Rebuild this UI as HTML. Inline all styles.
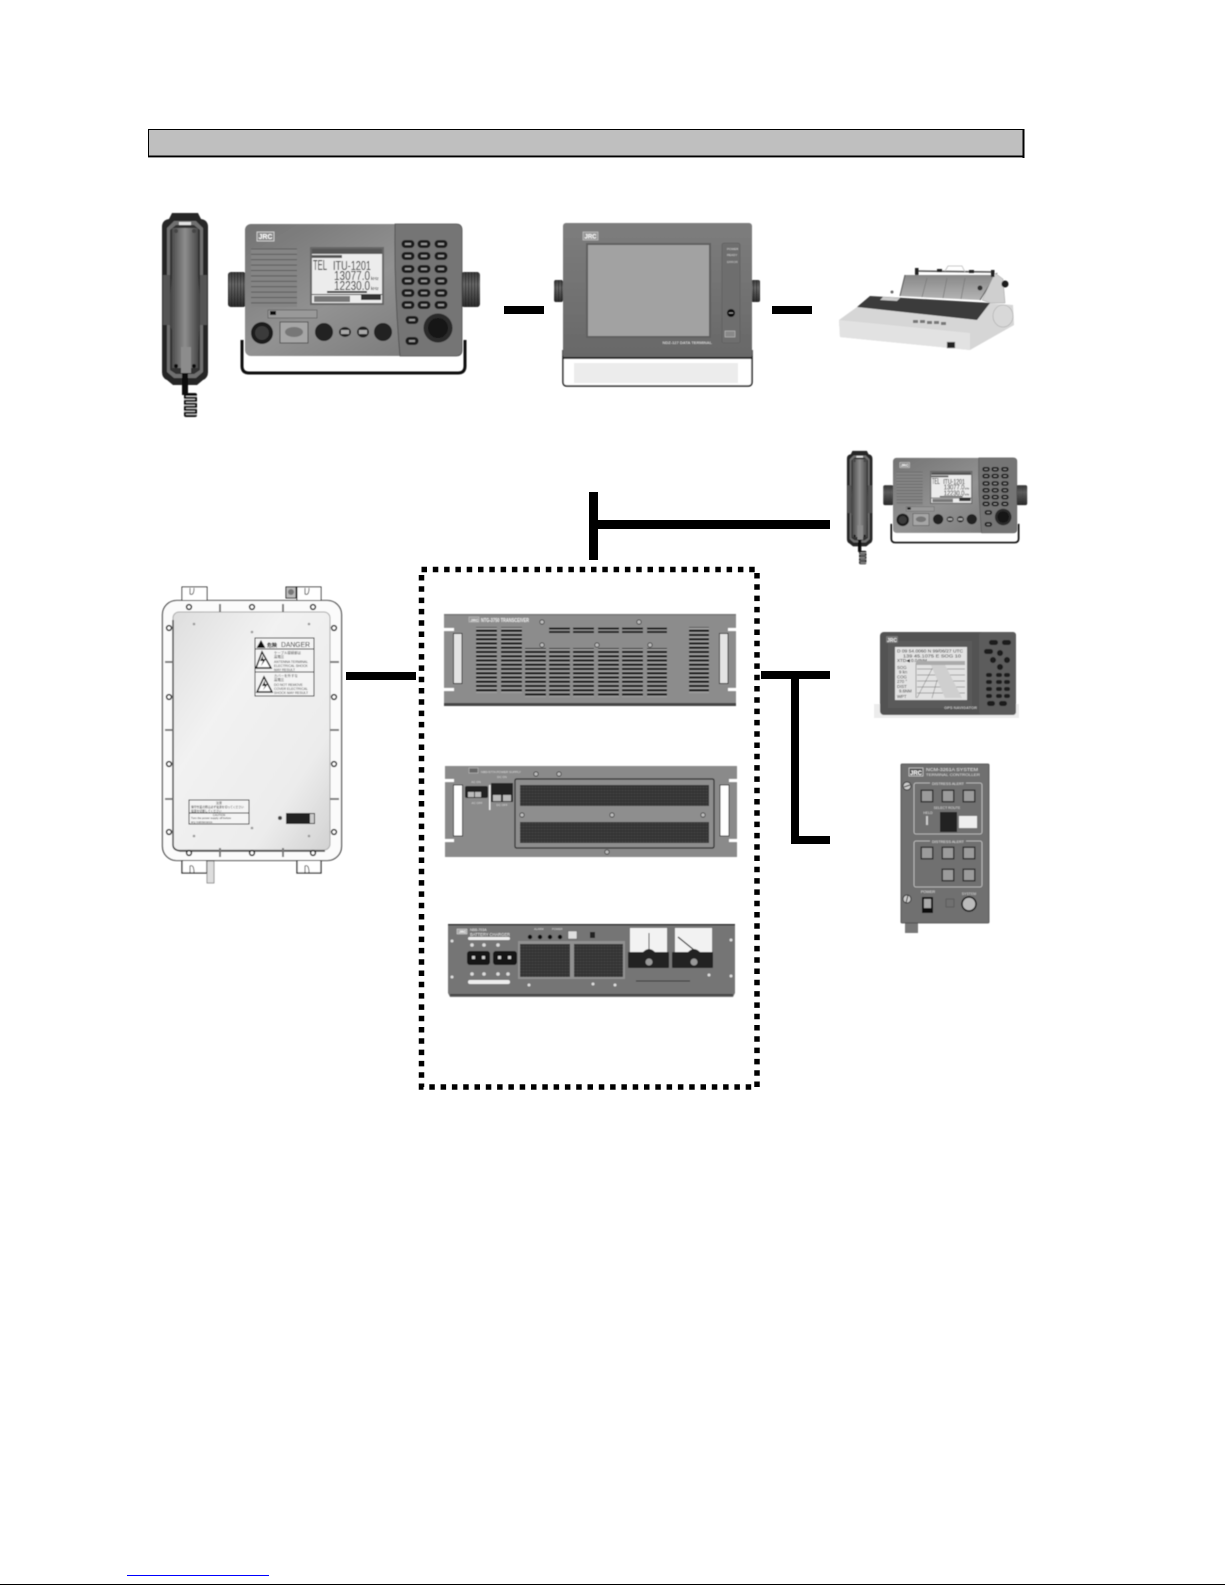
<!DOCTYPE html>
<html><head><meta charset="utf-8"><title>Diagram</title>
<style>html,body{margin:0;padding:0;background:#fff}svg{display:block}text{font-family:"Liberation Sans",sans-serif}</style></head>
<body>
<svg xmlns="http://www.w3.org/2000/svg" width="1225" height="1585" viewBox="0 0 1225 1585">
<defs>
<linearGradient id="rb" x1="0" y1="0" x2="1" y2="1"><stop offset="0" stop-color="#737373"/><stop offset=".5" stop-color="#929292"/><stop offset="1" stop-color="#747474"/></linearGradient>
<linearGradient id="hs" x1="0" y1="0" x2="1" y2="0"><stop offset="0" stop-color="#3c3c3c"/><stop offset=".5" stop-color="#8e8e8e"/><stop offset="1" stop-color="#3a3a3a"/></linearGradient>
<linearGradient id="plate" x1="0" y1="0" x2="1" y2="1"><stop offset="0" stop-color="#dedede"/><stop offset=".35" stop-color="#f2f2f2"/><stop offset=".75" stop-color="#ececec"/><stop offset="1" stop-color="#d2d2d2"/></linearGradient>
<linearGradient id="knob" x1="0" y1="0" x2="0" y2="1"><stop offset="0" stop-color="#3a3a3a"/><stop offset=".35" stop-color="#6c6c6c"/><stop offset="1" stop-color="#2c2c2c"/></linearGradient>
<linearGradient id="term" x1="0" y1="0" x2="0" y2="1"><stop offset="0" stop-color="#7d7d7d"/><stop offset="1" stop-color="#686868"/></linearGradient>
<linearGradient id="guide" x1="0" y1="0" x2="0" y2="1"><stop offset="0" stop-color="#888"/><stop offset="1" stop-color="#b4b4b4"/></linearGradient>
<pattern id="vent" width="10" height="4.25" patternUnits="userSpaceOnUse"><rect width="10" height="4.25" fill="#a2a2a2"/><rect width="10" height="2.3" y=".6" fill="#161616"/></pattern>
<pattern id="grill" width="10" height="5.4" patternUnits="userSpaceOnUse"><rect width="10" height="5.4" fill="#858585"/><rect width="10" height="1" fill="#5b5b5b"/></pattern>
<pattern id="foam" width="3" height="3" patternUnits="userSpaceOnUse"><rect width="3" height="3" fill="#363636"/><rect x="1" y="1" width="1" height="1" fill="#4a4a4a"/></pattern>
<pattern id="ridge" width="3" height="10" patternUnits="userSpaceOnUse"><rect width="1.200" height="10" fill="#1c1c1c" opacity=".55"/></pattern>
<g id="k"><rect x="-6.5" y="-4" width="13" height="8" rx="4" fill="#1e1e1e"/><rect x="-3" y="-1" width="6" height="2" fill="#999"/></g>
<g id="sc"><circle r="2.2" fill="#bbb" stroke="#333" stroke-width=".8"/></g>
<g id="bolt"><circle r="2.4" fill="#fff" stroke="#111" stroke-width="1.5"/></g>
<g id="cb"><rect x="-6.5" y="-6.5" width="13" height="13" fill="#333"/><rect x="-5" y="-5" width="10" height="10" fill="#9b9b9b"/></g>

<g id="radio">
  <path d="M242 340 V366 Q242 373 249 373 H458 Q465 373 465 366 V340" fill="none" stroke="#111" stroke-width="3"/>
  <rect x="228" y="272" width="18" height="35" rx="3" fill="url(#knob)"/><rect x="228" y="272" width="18" height="35" rx="3" fill="url(#ridge)"/>
  <rect x="461" y="272" width="19" height="35" rx="3" fill="url(#knob)"/><rect x="461" y="272" width="19" height="35" rx="3" fill="url(#ridge)"/>
  <rect x="245" y="224" width="217" height="132" rx="6" fill="url(#rb)"/>
  <path d="M395 224 H456 Q462 224 462 230 V350 Q462 356 456 356 H400 Q394 290 395 224Z" fill="#747474" stroke="#4a4a4a" stroke-width=".8"/>
  <rect x="257" y="232" width="17" height="9" fill="#8a8a8a" stroke="#ddd" stroke-width=".8"/>
  <text x="265.500" y="239" font-size="7" font-weight="bold" fill="#fff" text-anchor="middle">JRC</text>
  <rect x="251" y="248" width="46" height="59" fill="url(#grill)"/>
  <rect x="310" y="247" width="74" height="58" fill="#666"/>
  <rect x="312" y="249" width="70" height="54" fill="#ececec"/>
  <rect x="312" y="249" width="70" height="5" fill="#555"/>
  <rect x="312" y="255" width="30" height="3" fill="#555"/>
  <text x="313" y="270" font-size="15" fill="#111" textLength="14" lengthAdjust="spacingAndGlyphs">TEL</text>
  <text x="333" y="270" font-size="13" fill="#111" textLength="38" lengthAdjust="spacingAndGlyphs">ITU-1201</text>
  <text x="334" y="280" font-size="13" fill="#111" textLength="36" lengthAdjust="spacingAndGlyphs">13077.0</text>
  <text x="334" y="290" font-size="13" fill="#111" textLength="36" lengthAdjust="spacingAndGlyphs">12230.0</text>
  <text x="371" y="280" font-size="4.500" fill="#111">kHz</text>
  <text x="371" y="290" font-size="4.500" fill="#111">kHz</text>
  <rect x="327" y="291" width="40" height="2" fill="#333"/>
  <rect x="312" y="294" width="70" height="1" fill="#222"/>
  <rect x="314" y="296" width="36" height="6" fill="#777"/>
  <rect x="361" y="294" width="20" height="6" fill="#333"/>
  <rect x="268" y="310" width="49" height="8" fill="#999" stroke="#444" stroke-width=".5"/>
  <rect x="270" y="311" width="6" height="4" fill="#111"/>
  <circle cx="262" cy="333" r="11" fill="#1c1c1c"/><circle cx="262" cy="333" r="7" fill="#3a3a3a"/>
  <rect x="280" y="322" width="28" height="21" fill="#a6a6a6" stroke="#444" stroke-width=".8"/>
  <ellipse cx="294" cy="332" rx="9" ry="5" fill="#777"/>
  <circle cx="324" cy="332" r="9" fill="#222"/>
  <circle cx="383" cy="332" r="9" fill="#222"/>
  <ellipse cx="345" cy="332" rx="6" ry="5" fill="#222"/><rect x="341" y="330" width="8" height="4" fill="#aaa"/>
  <ellipse cx="363" cy="332" rx="6" ry="5.500" fill="#222"/><rect x="359" y="330" width="8" height="4" fill="#aaa"/>
  <use href="#k" x="408" y="244"/><use href="#k" x="424" y="244"/><use href="#k" x="441" y="244"/>
  <use href="#k" x="408" y="256"/><use href="#k" x="424" y="256"/><use href="#k" x="441" y="256"/>
  <use href="#k" x="408" y="269"/><use href="#k" x="424" y="269"/><use href="#k" x="441" y="269"/>
  <use href="#k" x="408" y="281"/><use href="#k" x="424" y="281"/><use href="#k" x="441" y="281"/>
  <use href="#k" x="408" y="293"/><use href="#k" x="424" y="293"/><use href="#k" x="441" y="293"/>
  <use href="#k" x="408" y="305"/><use href="#k" x="424" y="305"/><use href="#k" x="441" y="305"/>
  <use href="#k" x="412" y="320"/><use href="#k" x="412" y="341"/>
  <circle cx="438" cy="328" r="14.500" fill="#2a2a2a"/><circle cx="438" cy="328" r="10" fill="#141414"/>
</g>

<g id="handset">
  <path d="M177 213 H198 L201 219 Q208 220 208 227 V372 Q208 378 203 380 L197 385 H173 L167 380 Q162 378 162 372 V227 Q162 220 169 219 L172 213Z" fill="#262626"/>
  <path d="M174 221 H196 L203 228 V372 L196 378 H174 L167 372 V228Z" fill="#707070"/>
  <path d="M176 225 H194 L200 230 V370 L194 374 H176 L170 370 V230Z" fill="#303030"/>
  <path d="M172 228 H198 V272 Q198 285 201 300 V322 Q198 330 198 368 H172 V330 Q169 325 169 322 V300 Q172 285 172 272Z" fill="url(#hs)"/>
  <rect x="163" y="275" width="7" height="50" fill="#555"/><rect x="200" y="275" width="7" height="50" fill="#555"/>
  <rect x="179" y="222" width="12" height="3" fill="#e4e4e4"/>
  <circle cx="176" cy="231" r="2" fill="#444"/><circle cx="194" cy="231" r="2" fill="#444"/>
  <circle cx="176" cy="366" r="2" fill="#111"/><circle cx="194" cy="366" r="2" fill="#111"/>
  <rect x="181" y="347" width="10" height="26" fill="#8c8c8c"/>
  <rect x="182" y="373" width="6" height="22" fill="#111"/>
  <rect x="184" y="393" width="13" height="24" rx="2" fill="#111"/>
  <g fill="#eee"><rect x="186" y="396" width="11" height=".8"/><rect x="184" y="399" width="11" height=".8"/><rect x="186" y="402" width="11" height=".8"/><rect x="184" y="405" width="11" height=".8"/><rect x="186" y="408" width="11" height=".8"/><rect x="184" y="411" width="11" height=".8"/><rect x="186" y="414" width="11" height=".8"/></g>
</g>
<filter id="soft"><feGaussianBlur stdDeviation=".45"/></filter>
</defs>

<rect width="1225" height="1585" fill="#fff"/>

<!-- header -->
<rect x="148.500" y="129.500" width="874.500" height="26.500" fill="#bfbfbf" stroke="#000"/>
<rect x="1022.500" y="129" width="2" height="29" fill="#000"/>
<rect x="148" y="156" width="875" height="1.400" fill="#000"/>

<g filter="url(#soft)">
<use href="#handset"/>
<use href="#radio"/>

<!-- data terminal -->
<rect x="554" y="280" width="9" height="22" rx="2" fill="url(#knob)"/><rect x="554" y="280" width="9" height="22" rx="2" fill="url(#ridge)"/>
<rect x="751" y="280" width="9" height="22" rx="2" fill="url(#knob)"/><rect x="751" y="280" width="9" height="22" rx="2" fill="url(#ridge)"/>
<path d="M563 350 V382 Q563 386 567 386 H748 Q752 386 752 382 V350" fill="#fff" stroke="#111" stroke-width="1.500"/>
<rect x="574" y="363" width="164" height="20" fill="#ececec"/>
<rect x="563" y="223" width="189" height="135" rx="3" fill="url(#term)"/>
<rect x="563" y="357" width="189" height="2" fill="#222"/>
<rect x="583" y="232" width="15" height="8" fill="#999" stroke="#ccc" stroke-width=".6"/>
<text x="590.500" y="238.500" font-size="6" font-weight="bold" fill="#fff" text-anchor="middle">JRC</text>
<rect x="586" y="243" width="125" height="95" fill="#5f5f5f"/>
<rect x="588" y="245" width="121" height="91" fill="#a2a2a2"/>
<rect x="722" y="243" width="18" height="100" rx="2" fill="#6e6e6e" stroke="#5a5a5a" stroke-width=".6"/>
<text x="727" y="250" font-size="3" fill="#ddd">POWER</text>
<text x="727" y="256" font-size="3" fill="#ddd">READY</text>
<text x="727" y="263" font-size="3" fill="#ccc">ERROR</text>
<circle cx="731" cy="313" r="4" fill="#111"/><rect x="729" y="312.500" width="4" height="1" fill="#999"/>
<rect x="725" y="331" width="10" height="6" fill="#888" stroke="#ccc" stroke-width=".5"/>
<text x="712" y="344" font-size="4" font-weight="bold" fill="#ccc" text-anchor="end">NDZ-127 DATA TERMINAL</text>

<!-- printer -->
<path d="M905 275 H997 L980 300 L900 296Z" fill="url(#guide)"/>
<path d="M905 275 L900 296 M997 273 L980 300" stroke="#555" stroke-width="1" fill="none"/>
<g stroke="#777" stroke-width=".7"><line x1="927" y1="278" x2="922" y2="297"/><line x1="947" y1="278" x2="943" y2="298"/><line x1="965" y1="278" x2="961" y2="299"/></g>
<path d="M995 273 L1003 279 L1005 303 L990 303 L982 300Z" fill="#cfcfcf" stroke="#999" stroke-width=".5"/>
<circle cx="980" cy="288" r="2.500" fill="#333"/>
<line x1="917" y1="271" x2="993" y2="272" stroke="#555" stroke-width="1.500"/>
<rect x="915" y="268" width="3.500" height="7" fill="#222"/><rect x="937" y="269" width="5" height="3" fill="#222"/><rect x="969" y="270" width="5" height="3" fill="#222"/><rect x="991" y="270" width="3.500" height="7" fill="#222"/>
<path d="M945 271 L948 266 H962 L965 272" fill="none" stroke="#bbb" stroke-width=".8"/>
<circle cx="1005" cy="284" r="3.500" fill="#1c1c1c"/>
<circle cx="892" cy="292" r="1.500" fill="#666"/>
<path d="M839 320 L857 307 L985 303 L1013 305 L1014 325 L970 350 L840 337Z" fill="#d6d6d6"/>
<path d="M839 320 L970 333 L970 350 L840 337Z" fill="#e2e2e2"/>
<path d="M857 307 L870 296 L990 303 L977 320 Z" fill="#3a3a3a"/>
<path d="M883 297 L900 298 L897 301 L880 300Z" fill="#ccc"/>
<ellipse cx="1003" cy="316" rx="10" ry="11" fill="#d8d8d8" stroke="#aaa" stroke-width=".6"/>
<g fill="#777"><rect x="913" y="320" width="5" height="3"/><rect x="920" y="320" width="5" height="3"/><rect x="927" y="321" width="5" height="3"/><rect x="934" y="321" width="5" height="3"/><rect x="941" y="322" width="5" height="3"/></g>
<rect x="947" y="342" width="8" height="6" fill="#222" stroke="#aaa" stroke-width=".5"/>

<!-- second radio + handset -->
<g transform="translate(757,332.700) scale(.555)"><use href="#handset"/></g>
<g transform="translate(753.100,330.700) scale(.571,.568)"><use href="#radio"/></g>

<!-- GPS navigator -->
<rect x="874" y="704" width="145" height="14" fill="#ececec"/>
<rect x="880" y="632" width="136" height="83" rx="4" fill="#525252"/>
<rect x="979" y="632" width="37" height="83" rx="3" fill="#5c5c5c"/>
<rect x="888" y="641" width="84" height="67" fill="#5a5a5a"/>
<rect x="895" y="647" width="72" height="53" fill="#e2e2e2"/>
<text x="897" y="652.500" font-size="4.300" fill="#222" textLength="66" lengthAdjust="spacingAndGlyphs">D 09 54.0060 N 99/06/27 UTC</text>
<text x="903" y="657.500" font-size="4.300" fill="#222" textLength="58" lengthAdjust="spacingAndGlyphs">139 45.1075 E SOG 10</text>
<text x="897" y="662" font-size="4.300" fill="#222" textLength="30" lengthAdjust="spacingAndGlyphs">XTD◀ 0.04NM</text>
<g fill="#333" font-size="4.300"><text x="897" y="669">SOG</text><text x="899" y="673.500">9 kn</text><text x="897" y="678.500">COG</text><text x="897" y="683">270 °</text><text x="897" y="688">DIST</text><text x="899" y="692.500">9.6NM</text><text x="897" y="698">WPT</text></g>
<g stroke="#666" stroke-width=".5" fill="none"><line x1="916" y1="663" x2="916" y2="698"/><path d="M917 669 H965 M917 675 H965 M917 681 H965 M917 687 H965 M917 693 H965"/><path d="M935 663 L917 698 M942 663 L932 698"/></g>
<path d="M930 663 L944 663 L962 698 L945 698Z" fill="#cfcfcf"/>
<rect x="916" y="661" width="49" height="4" fill="#aaa"/>
<text x="977" y="709" font-size="4" font-weight="bold" fill="#bbb" text-anchor="end">GPS NAVIGATOR</text>
<rect x="886" y="636" width="12" height="7" rx="1" fill="#777"/><text x="892" y="642" font-size="5" font-weight="bold" fill="#eee" text-anchor="middle">JRC</text>
<g fill="#1c1c1c"><rect x="989" y="640" width="9" height="5" rx="2.500"/><rect x="1002" y="640" width="9" height="5" rx="2.500"/><rect x="984" y="649" width="9" height="5" rx="2.500"/><circle cx="1000" cy="653" r="3"/><circle cx="993" cy="660" r="3"/><circle cx="1007" cy="660" r="3"/><circle cx="1000" cy="667" r="3"/></g>
<g fill="#1c1c1c"><rect x="986" y="673" width="6" height="4" rx="2"/><rect x="996" y="673" width="6" height="4" rx="2"/><rect x="1004" y="673" width="6" height="4" rx="2"/><rect x="986" y="680" width="6" height="4" rx="2"/><rect x="996" y="680" width="6" height="4" rx="2"/><rect x="1004" y="680" width="6" height="4" rx="2"/><rect x="986" y="687" width="6" height="4" rx="2"/><rect x="996" y="687" width="6" height="4" rx="2"/><rect x="1004" y="687" width="6" height="4" rx="2"/><rect x="986" y="694" width="6" height="4" rx="2"/><rect x="996" y="694" width="6" height="4" rx="2"/><rect x="1004" y="694" width="6" height="4" rx="2"/><rect x="987" y="701" width="8" height="5" rx="2.500"/><rect x="999" y="701" width="8" height="5" rx="2.500"/></g>

<!-- controller -->
<rect x="905" y="923" width="13" height="10" fill="#777"/>
<rect x="901" y="764" width="88" height="159" rx="1" fill="#6f6f6f" stroke="#444" stroke-width=".8"/>
<rect x="909" y="768" width="14" height="8" fill="#555" stroke="#ddd" stroke-width=".7"/>
<text x="916" y="775" font-size="6" font-weight="bold" fill="#fff" text-anchor="middle">JRC</text>
<text x="926" y="771" font-size="4.500" fill="#e4e4e4" textLength="52" lengthAdjust="spacingAndGlyphs">NCM-3261A SYSTEM</text>
<text x="926" y="776" font-size="4" fill="#ddd" textLength="54" lengthAdjust="spacingAndGlyphs">TERMINAL CONTROLLER</text>
<rect x="914" y="783" width="68" height="51" rx="2" fill="none" stroke="#ccc" stroke-width=".8"/>
<rect x="914" y="841" width="68" height="46" rx="2" fill="none" stroke="#ccc" stroke-width=".8"/>
<rect x="930" y="780" width="36" height="6" fill="#6f6f6f"/><text x="948" y="785" font-size="3.800" fill="#e4e4e4" text-anchor="middle">DISTRESS ALERT</text>
<rect x="930" y="838" width="36" height="6" fill="#6f6f6f"/><text x="948" y="843" font-size="3.800" fill="#e4e4e4" text-anchor="middle">DISTRESS ALERT</text>
<use href="#cb" x="927" y="796"/><use href="#cb" x="948" y="796"/><use href="#cb" x="969" y="796"/>
<use href="#cb" x="927" y="853"/><use href="#cb" x="948" y="853"/><use href="#cb" x="969" y="853"/>
<use href="#cb" x="948" y="875"/><use href="#cb" x="969" y="875"/>
<text x="947" y="809" font-size="3.500" fill="#ddd" text-anchor="middle">SELECT ROUTE</text>
<rect x="940" y="812" width="17" height="20" fill="#222"/>
<rect x="959" y="816" width="18" height="12" fill="#eee"/>
<text x="928" y="814" font-size="3.500" fill="#ddd" text-anchor="middle">HELD</text>
<rect x="926" y="816" width="2" height="9" fill="#ccc"/>
<circle cx="907" cy="786" r="4" fill="#ccc" stroke="#333"/><line x1="904" y1="787" x2="910" y2="785" stroke="#333"/>
<circle cx="907" cy="899" r="4" fill="#ccc" stroke="#333"/><line x1="906" y1="903" x2="908" y2="895" stroke="#333"/>
<text x="928" y="893" font-size="3.800" fill="#e4e4e4" text-anchor="middle">POWER</text>
<rect x="922" y="897" width="11" height="16" fill="#111"/><rect x="924" y="899" width="7" height="9" fill="#aaa"/>
<text x="969" y="895" font-size="3.500" fill="#ddd" text-anchor="middle">SYSTEM</text>
<circle cx="969" cy="904" r="7" fill="#bbb" stroke="#111" stroke-width="1.500"/>
<rect x="946" y="899" width="8" height="8" fill="none" stroke="#555" stroke-width=".7"/>

<!-- enclosure -->
<path d="M182 600 V587 H207 V600 M297 600 V587 H321 V600" fill="#fff" stroke="#222" stroke-width="1"/>
<path d="M190 588 V594 Q194 596 194 588 M305 588 V594 Q309 596 309 588" fill="none" stroke="#222" stroke-width=".8"/>
<rect x="286" y="587" width="10" height="11" fill="#bbb" stroke="#222"/><circle cx="291" cy="592" r="3" fill="#777"/>
<path d="M182 861 V873 H207 V861 M297 861 V873 H321 V861" fill="#fff" stroke="#222" stroke-width="1.300"/>
<path d="M190 873 V866 Q194 864 194 873 M305 873 V866 Q309 864 309 873" fill="none" stroke="#222" stroke-width=".8"/>
<rect x="207" y="861" width="7" height="22" fill="#ddd" stroke="#555" stroke-width=".6"/>
<rect x="162.500" y="600.500" width="179" height="260" rx="14" fill="#fbfbfb" stroke="#222" stroke-width="1.100"/>
<rect x="173" y="612" width="157" height="238" rx="6" fill="url(#plate)" stroke="#aaa"/>
<path d="M173 620 V845 Q173 850 180 851 H325" fill="none" stroke="#333" stroke-width="1.400"/>
<use href="#bolt" x="189" y="607"/><use href="#bolt" x="252" y="607"/><use href="#bolt" x="313" y="607"/>
<use href="#bolt" x="189" y="853"/><use href="#bolt" x="252" y="853"/><use href="#bolt" x="313" y="853"/>
<use href="#bolt" x="169" y="628"/><use href="#bolt" x="169" y="697"/><use href="#bolt" x="169" y="764"/><use href="#bolt" x="169" y="832"/>
<use href="#bolt" x="334" y="628"/><use href="#bolt" x="334" y="697"/><use href="#bolt" x="334" y="764"/><use href="#bolt" x="334" y="832"/>
<g fill="#777"><rect x="219" y="604" width="2" height="8"/><rect x="282" y="604" width="2" height="8"/><rect x="219" y="848" width="2" height="9"/><rect x="282" y="848" width="2" height="9"/><rect x="165" y="661" width="8" height="2"/><rect x="165" y="729" width="8" height="2"/><rect x="165" y="798" width="8" height="2"/><rect x="330" y="661" width="9" height="2"/><rect x="330" y="729" width="9" height="2"/><rect x="330" y="798" width="9" height="2"/></g>
<g fill="#999"><circle cx="194" cy="624" r="1.300"/><circle cx="309" cy="624" r="1.300"/><circle cx="252" cy="632" r="1.300"/><circle cx="194" cy="836" r="1.300"/><circle cx="309" cy="836" r="1.300"/><circle cx="252" cy="828" r="1.300"/></g>
<rect x="255" y="638" width="59" height="58" fill="#f4f4f4" stroke="#111" stroke-width="1"/>
<line x1="255" y1="649" x2="314" y2="649" stroke="#111"/><line x1="255" y1="672" x2="314" y2="672" stroke="#111"/>
<path d="M261 640 L265.500 648 H256.500Z" fill="#111"/>
<text x="267" y="647" font-size="5" font-weight="bold" fill="#111" font-family="'Liberation Sans','Noto Sans CJK JP',sans-serif">危険</text>
<text x="281" y="647" font-size="7" fill="#222" textLength="29" lengthAdjust="spacingAndGlyphs">DANGER</text>
<path d="M262 652 L271 668 H256Z" fill="#fff" stroke="#111" stroke-width="1.500"/><path d="M263 655 L260 661 H263 L261 666 L266 659 H263Z" fill="#111"/>
<path d="M264 677 L272 692 H257Z" fill="#fff" stroke="#111" stroke-width="1.500"/><path d="M265 680 L262 686 H265 L263 690 L268 684 H265Z" fill="#111"/>
<g font-size="3.400" fill="#444"><text x="274" y="654">ケーブル接続部は</text><text x="274" y="658">高電圧</text><text x="274" y="663">ANTENNA TERMINAL</text><text x="274" y="667">ELECTRICAL SHOCK</text><text x="274" y="671">MAY RESULT</text><text x="274" y="677">カバーを外すな</text><text x="274" y="681">高電圧</text><text x="274" y="686">DO NOT REMOVE</text><text x="274" y="690">COVER ELECTRICAL</text><text x="274" y="694">SHOCK MAY RESULT</text></g>
<rect x="189" y="800" width="60" height="24" fill="#f4f4f4" stroke="#111" stroke-width=".9"/>
<line x1="189" y1="813" x2="249" y2="813" stroke="#111"/>
<text x="219" y="804" font-size="3" fill="#333" text-anchor="middle">注意</text>
<g font-size="2.800" fill="#333"><text x="191" y="808">保守作業の際は必ず電源を切ってください</text><text x="191" y="812">電源を切断してください</text><text x="219" y="816" text-anchor="middle">CAUTION</text><text x="191" y="819">Turn the power supply off before</text><text x="191" y="823">any maintenance.</text></g>
<circle cx="280" cy="818" r="2" fill="#444"/>
<rect x="286" y="813" width="29" height="11" fill="#222"/><rect x="310" y="814" width="4" height="9" fill="#ccc"/>
</g>

<!-- connectors -->
<g fill="#000">
<rect x="504" y="306" width="40" height="8"/>
<rect x="772" y="306" width="40" height="8"/>
<rect x="589" y="492" width="9" height="68"/>
<rect x="598" y="520" width="232" height="9"/>
<rect x="346" y="672" width="70" height="8"/>
<rect x="761" y="671" width="69" height="8"/>
<rect x="791" y="671" width="8" height="173"/>
<rect x="791" y="836" width="39" height="8"/>
</g>

<!-- dashed box -->
<rect x="421.500" y="569.500" width="335.500" height="517.500" fill="none" stroke="#000" stroke-width="5.500" stroke-dasharray="5.500 5.800"/>

<g filter="url(#soft)">
<!-- transceiver -->
<rect x="444" y="614" width="292" height="92" fill="#8c8c8c"/>
<rect x="444" y="703" width="292" height="3" fill="#444"/>
<rect x="444" y="614" width="292" height="1.500" fill="#777"/>
<rect x="444" y="628" width="10" height="3" fill="#fff"/><rect x="444" y="688" width="10" height="3" fill="#fff"/>
<rect x="728" y="628" width="8" height="3" fill="#fff"/><rect x="728" y="688" width="8" height="3" fill="#fff"/>
<rect x="453.500" y="633.500" width="8.500" height="50" fill="#e4e4e4" stroke="#333" stroke-width="1"/>
<rect x="719.500" y="633.500" width="8.500" height="50" fill="#e4e4e4" stroke="#333" stroke-width="1"/>
<rect x="476" y="627" width="21" height="66" fill="url(#vent)"/>
<rect x="501" y="627" width="21" height="66" fill="url(#vent)"/>
<rect x="689" y="627" width="20" height="66" fill="url(#vent)"/>
<g fill="#161616"><rect x="549" y="627.500" width="21" height="2"/><rect x="549" y="631" width="21" height="2"/><rect x="573" y="627.500" width="21" height="2"/><rect x="573" y="631" width="21" height="2"/><rect x="598" y="627.500" width="21" height="2"/><rect x="598" y="631" width="21" height="2"/><rect x="622" y="627.500" width="21" height="2"/><rect x="622" y="631" width="21" height="2"/><rect x="647" y="627.500" width="20" height="2"/><rect x="647" y="631" width="20" height="2"/></g>
<rect x="525" y="648" width="21" height="49" fill="url(#vent)"/><rect x="549" y="648" width="21" height="49" fill="url(#vent)"/><rect x="573" y="648" width="21" height="49" fill="url(#vent)"/><rect x="598" y="648" width="21" height="49" fill="url(#vent)"/><rect x="622" y="648" width="21" height="49" fill="url(#vent)"/><rect x="647" y="648" width="20" height="49" fill="url(#vent)"/>
<use href="#sc" x="542" y="622"/><use href="#sc" x="639" y="622"/><use href="#sc" x="542" y="645"/><use href="#sc" x="597" y="645"/><use href="#sc" x="650" y="645"/>
<rect x="469" y="617" width="10" height="5" fill="#999" stroke="#ccc" stroke-width=".5"/>
<text x="470.500" y="621.300" font-size="4" font-weight="bold" fill="#eee">JRC</text>
<text x="481" y="622" font-size="5" font-weight="bold" fill="#eee" textLength="48" lengthAdjust="spacingAndGlyphs">NTG-3750 TRANSCEIVER</text>

<!-- power supply -->
<rect x="445" y="766" width="292" height="91" fill="#8a8a8a"/>
<rect x="445" y="779" width="9" height="3" fill="#fff"/><rect x="445" y="839" width="9" height="3" fill="#fff"/>
<rect x="729" y="779" width="8" height="3" fill="#fff"/><rect x="729" y="839" width="8" height="3" fill="#fff"/>
<rect x="453.500" y="785" width="9" height="51" fill="#fff" stroke="#333" stroke-width="1"/>
<rect x="720" y="785" width="9" height="51" fill="#fff" stroke="#333" stroke-width="1"/>
<rect x="515" y="779" width="199" height="69" rx="1.500" fill="#8e8e8e" stroke="#222" stroke-width="1.200"/>
<rect x="520" y="785" width="189" height="21" fill="url(#foam)"/>
<rect x="520" y="822" width="189" height="21" fill="url(#foam)"/>
<use href="#sc" x="522" y="815"/><use href="#sc" x="612" y="815"/><use href="#sc" x="703" y="815"/><use href="#sc" x="607" y="852"/><use href="#sc" x="536" y="774"/><use href="#sc" x="559" y="774"/>
<rect x="469" y="768" width="9" height="5" fill="#666" stroke="#ccc" stroke-width=".5"/>
<text x="481" y="773" font-size="3" fill="#ddd" textLength="40" lengthAdjust="spacingAndGlyphs">NBD-577A POWER SUPPLY</text>
<rect x="489" y="785" width="1.500" height="25" fill="#eee"/>
<rect x="465" y="786" width="23" height="12" rx="2" fill="#222"/><rect x="468" y="792" width="6" height="5" fill="#bbb"/><rect x="475" y="792" width="6" height="5" fill="#bbb"/>
<text x="476" y="783" font-size="3" fill="#ddd" text-anchor="middle">AC ON</text><text x="477" y="804" font-size="3" fill="#ddd" text-anchor="middle">AC OFF</text>
<rect x="491" y="783" width="22" height="19" fill="#222"/><rect x="493" y="795" width="8" height="6" fill="#bbb"/><rect x="503" y="795" width="8" height="6" fill="#bbb"/>
<text x="502" y="778" font-size="3" fill="#ddd" text-anchor="middle">DC ON</text><text x="502" y="806" font-size="3" fill="#ddd" text-anchor="middle">DC OFF</text>

<!-- charger -->
<path d="M448 924 H735 V993 L733 997 H450 L448 993Z" fill="#757575"/>
<rect x="448" y="924" width="287" height="1.500" fill="#333"/>
<rect x="450" y="994" width="283" height="2" fill="#444"/>
<rect x="518" y="941" width="107" height="38" fill="#919191"/>
<rect x="520" y="944" width="50" height="33" fill="url(#foam)"/>
<rect x="574" y="944" width="49" height="33" fill="url(#foam)"/>
<rect x="628" y="952" width="41" height="16" rx="1" fill="#222"/>
<rect x="672" y="952" width="41" height="16" rx="1" fill="#222"/>
<rect x="630" y="928" width="37" height="24" fill="#f2f2f2"/>
<rect x="675" y="928" width="37" height="24" fill="#f2f2f2"/>
<line x1="649" y1="950" x2="649" y2="933" stroke="#222"/><path d="M643 952 Q649 946 655 952Z" fill="#222"/>
<line x1="694" y1="950" x2="678" y2="937" stroke="#222" stroke-width="1.200"/><path d="M688 952 Q694 946 700 952Z" fill="#222"/>
<circle cx="649" cy="962" r="3.500" fill="#999"/><circle cx="694" cy="962" r="3.500" fill="#999"/>
<rect x="468" y="937" width="42" height="3" rx="1.500" fill="#eee"/><rect x="468" y="980" width="42" height="4" rx="2" fill="#eee"/>
<rect x="467" y="951" width="23" height="14" rx="3" fill="#141414"/><rect x="493" y="951" width="24" height="14" rx="3" fill="#141414"/>
<rect x="472" y="956" width="3" height="3" fill="#ccc"/><rect x="482" y="956" width="3" height="3" fill="#ccc"/><rect x="498" y="956" width="3" height="3" fill="#ccc"/><rect x="508" y="956" width="3" height="3" fill="#ccc"/>
<g fill="#ddd"><circle cx="472" cy="945" r="1.800"/><circle cx="484" cy="945" r="1.800"/><circle cx="498" cy="945" r="1.800"/><circle cx="472" cy="974" r="1.800"/><circle cx="484" cy="974" r="1.800"/><circle cx="498" cy="974" r="1.800"/><circle cx="508" cy="974" r="1.800"/><circle cx="452" cy="941" r="1.500"/><circle cx="452" cy="977" r="1.500"/><circle cx="731" cy="940" r="1.500"/><circle cx="731" cy="976" r="1.500"/><circle cx="709" cy="975" r="1.500"/><circle cx="529" cy="985" r="1.500"/><circle cx="593" cy="984" r="1.500"/><circle cx="615" cy="985" r="1.500"/></g>
<rect x="457" y="929" width="10" height="5" fill="#aaa" stroke="#ddd" stroke-width=".5"/>
<text x="459" y="933" font-size="3.500" font-weight="bold" fill="#fff">JRC</text>
<text x="470" y="931" font-size="3.500" fill="#eee">NBB-703A</text>
<text x="470" y="936" font-size="4.500" fill="#eee" textLength="40" lengthAdjust="spacingAndGlyphs">BATTERY CHARGER</text>
<text x="534" y="930" font-size="2.800" fill="#ddd">ALARM</text><text x="552" y="930" font-size="2.800" fill="#ddd">POWER</text>
<g fill="#111"><circle cx="530" cy="937" r="2.200"/><circle cx="540" cy="937" r="2.200"/><circle cx="550" cy="937" r="2.200"/><circle cx="560" cy="937" r="2.200"/></g>
<rect x="568" y="931" width="9" height="8" fill="#dedede" stroke="#555" stroke-width=".5"/>
<rect x="590" y="932" width="5" height="6" fill="#222"/>
<line x1="636" y1="981" x2="690" y2="981" stroke="#333"/>
</g>

<!-- footer -->
<rect x="127" y="1575" width="142" height="1" fill="#0000ff"/>
<rect x="0" y="1584" width="1225" height="1" fill="#000"/>
</svg>
</body></html>
